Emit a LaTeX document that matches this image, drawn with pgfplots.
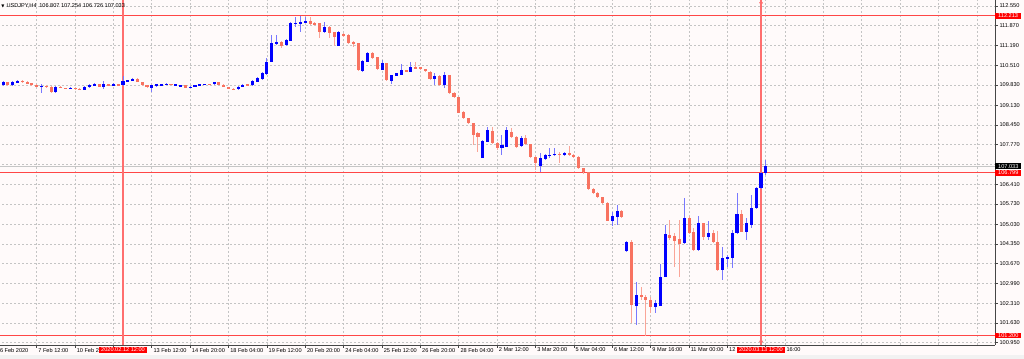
\documentclass[border=0pt]{standalone}
\usepackage{pgfplots}
\pgfplotsset{compat=1.18}
\usepackage{pgfplotstable}
\usepackage{fontspec}
\setmainfont{Liberation Sans}
\newfontfamily\dejavu{DejaVu Sans}
\definecolor{bgc}{RGB}{255,250,250}
\definecolor{bull}{RGB}{0,0,255}
\definecolor{bear}{RGB}{248,114,96}
\definecolor{bullw}{RGB}{120,120,255}
\definecolor{bearw}{RGB}{250,165,152}
\definecolor{gridc}{RGB}{196,196,196}
\definecolor{axc}{RGB}{70,70,70}
\definecolor{lvl}{RGB}{255,70,70}
\definecolor{vlvl}{RGB}{255,110,110}

% bullish candles (close >= open)
\pgfplotstableread{
i o h l c
2 109.82 109.97 109.79 109.93
4 109.84 109.97 109.81 109.93
5 109.91 110.00 109.90 109.98
10 109.78 109.85 109.54 109.81
13 109.59 109.79 109.54 109.76
16 109.70 109.75 109.68 109.73
19 109.67 109.78 109.66 109.76
20 109.76 109.85 109.74 109.83
21 109.83 109.89 109.81 109.86
23 109.77 109.96 109.70 109.86
25 109.82 109.89 109.80 109.86
27 109.82 110.14 109.80 109.96
28 109.96 110.00 109.93 109.98
29 109.98 110.07 109.97 110.05
33 109.73 109.83 109.59 109.82
34 109.82 109.86 109.76 109.84
35 109.84 109.88 109.81 109.85
36 109.85 109.90 109.83 109.86
38 109.82 109.86 109.79 109.85
39 109.79 109.83 109.78 109.82
41 109.73 109.79 109.71 109.77
42 109.77 109.83 109.76 109.82
43 109.82 109.85 109.81 109.84
44 109.84 109.88 109.83 109.86
46 109.85 109.95 109.84 109.93
51 109.68 109.79 109.66 109.77
52 109.77 109.86 109.76 109.84
54 109.84 110.00 109.81 109.98
55 109.94 110.09 109.93 110.06
56 110.03 110.28 110.00 110.23
57 110.21 110.75 110.19 110.63
58 110.63 111.55 110.62 111.27
59 111.23 111.55 111.21 111.32
61 111.21 111.41 111.19 111.38
62 111.36 112.00 111.35 111.98
63 111.93 112.18 111.84 111.98
64 111.95 112.21 111.66 112.01
65 111.99 112.18 111.95 112.04
69 111.64 112.01 111.62 111.82
72 111.18 111.69 111.17 111.66
77 110.32 110.69 110.29 110.67
78 110.63 110.97 110.62 110.94
81 110.35 110.69 110.33 110.58
83 109.98 110.19 109.86 110.17
84 110.15 110.24 110.14 110.23
85 110.17 110.55 110.16 110.35
87 110.29 110.63 110.28 110.46
92 110.03 110.23 109.83 110.14
94 109.83 110.29 109.72 110.17
102 107.32 107.93 107.30 107.90
103 107.88 108.39 107.87 108.28
106 107.67 108.11 107.42 107.76
107 107.70 108.39 107.69 108.28
110 107.74 108.07 107.71 107.99
114 107.05 107.48 106.84 107.30
115 107.28 107.45 107.25 107.42
116 107.39 107.67 107.30 107.42
117 107.42 107.67 107.38 107.46
119 107.42 107.53 107.38 107.50
129 105.15 105.46 104.97 105.32
130 105.27 105.70 105.01 105.50
132 104.12 104.47 104.09 104.43
134 102.22 103.05 101.56 102.59
138 102.19 102.42 101.96 102.31
139 102.23 103.66 102.20 103.23
140 103.23 105.01 103.20 104.70
144 104.37 105.93 104.35 105.24
147 104.14 105.32 104.11 105.06
149 104.60 105.15 104.49 104.74
152 103.46 104.26 103.11 103.86
153 103.82 103.97 103.55 103.89
154 103.86 104.83 103.51 104.72
155 104.72 106.12 104.70 105.38
157 104.77 105.24 104.49 105.06
158 105.01 106.04 104.89 105.58
159 105.58 106.32 105.56 106.27
160 106.27 106.84 106.25 106.807
161 106.807 107.254 106.726 107.033
}\upc

% bearish candles (close < open)
\pgfplotstableread{
i o h l c
3 109.93 109.95 109.81 109.84
6 109.98 110.00 109.91 109.94
7 109.94 109.97 109.86 109.89
8 109.89 109.91 109.81 109.83
9 109.83 109.86 109.76 109.78
11 109.81 109.83 109.74 109.77
12 109.77 109.79 109.57 109.59
14 109.76 109.78 109.71 109.73
15 109.73 109.74 109.68 109.70
17 109.73 109.74 109.67 109.69
18 109.69 109.71 109.65 109.67
22 109.86 109.88 109.76 109.77
24 109.86 109.88 109.80 109.82
26 109.86 109.88 109.81 109.83
30 110.05 110.07 109.93 109.93
31 109.93 109.95 109.80 109.82
32 109.82 109.84 109.73 109.75
37 109.86 109.88 109.82 109.84
40 109.82 109.83 109.71 109.73
45 109.86 109.88 109.83 109.84
47 109.93 109.94 109.83 109.84
48 109.84 109.85 109.75 109.75
49 109.75 109.76 109.68 109.70
50 109.70 109.73 109.66 109.68
53 109.84 109.86 109.80 109.82
60 111.30 111.34 111.09 111.18
66 112.04 112.18 111.90 111.93
67 111.98 112.00 111.88 111.91
68 111.95 111.96 111.44 111.66
70 111.84 111.86 111.44 111.61
71 111.65 111.67 111.17 111.49
73 111.59 111.62 111.48 111.52
74 111.55 111.57 111.24 111.27
75 111.32 111.34 111.14 111.23
76 111.27 111.28 110.32 110.35
79 110.92 110.95 110.72 110.75
80 110.78 110.79 110.35 110.37
82 110.58 110.59 109.98 110.00
86 110.35 110.36 110.28 110.29
88 110.44 110.63 110.38 110.40
89 110.44 110.45 110.35 110.37
90 110.37 110.38 110.29 110.31
91 110.29 110.31 110.00 110.03
93 110.14 110.16 109.81 109.83
95 110.17 110.19 109.52 109.54
96 109.56 109.59 109.38 109.40
97 109.40 109.41 108.85 108.86
98 108.90 108.92 108.66 108.69
99 108.68 108.69 108.49 108.51
100 108.51 108.52 107.76 108.11
101 108.16 108.21 107.52 108.03
104 108.24 108.39 107.80 107.82
105 107.82 107.85 107.59 107.65
108 108.22 108.34 108.02 108.05
109 108.05 108.07 107.66 107.70
111 107.99 108.11 107.76 107.79
112 107.79 107.80 107.33 107.36
113 107.36 107.38 106.90 107.13
118 107.46 107.53 107.13 107.42
120 107.50 107.74 107.38 107.42
121 107.42 107.45 107.33 107.36
122 107.36 107.38 106.93 106.96
123 106.96 106.97 106.76 106.82
124 106.82 106.83 106.21 106.24
125 106.24 106.28 106.09 106.12
126 106.12 106.13 105.94 105.96
127 105.96 105.97 105.73 105.77
128 105.77 105.80 105.13 105.15
131 105.50 105.52 105.25 105.27
133 104.43 104.49 101.62 102.25
135 102.59 102.88 102.42 102.51
136 102.53 102.59 101.18 102.42
137 102.42 102.54 101.96 102.19
141 104.66 105.18 104.49 104.57
142 104.63 104.74 103.57 104.47
143 104.51 105.18 103.22 104.37
145 105.24 105.32 104.71 104.74
146 104.77 104.89 104.11 104.14
148 105.06 105.08 104.49 104.60
150 104.74 104.83 104.39 104.43
151 104.43 104.81 103.42 103.46
156 105.38 105.52 104.75 104.77
}\downc

\begin{document}
\begin{tikzpicture}[font=\fontsize{4.2}{5}\selectfont]
\fill[bgc] (0,0) rectangle (768pt,269.25pt);
\fill[gray!10] (0,0) rectangle (768pt,3pt);
\useasboundingbox (0,0) rectangle (768pt,269.25pt);
\begin{axis}[
  at={(-1.5pt,10.5pt)}, anchor=south west,
  scale only axis, width=747.75pt, height=258.75pt,
  xmin=0.938, xmax=208.78, ymin=100.873, ymax=112.757,
  clip=false,
  axis x line*=bottom, axis y line*=right,
  axis line style={axc, line width=0.6pt},
  tick align=outside, major tick length=2.2pt,
  tick style={axc, line width=0.5pt},
  xtick={1,9,...,161},
  xticklabels={6 Feb 2020,7 Feb 12:00,10 Feb 20:00,{},13 Feb 12:00,14 Feb 20:00,18 Feb 04:00,19 Feb 12:00,20 Feb 20:00,24 Feb 04:00,25 Feb 12:00,26 Feb 20:00,28 Feb 04:00,2 Mar 12:00,3 Mar 20:00,5 Mar 04:00,6 Mar 12:00,9 Mar 16:00,11 Mar 00:00,12 Mar 08:00,13 Mar 16:00},
  extra x ticks={165,173,...,205},
  extra x tick labels={},
  extra x tick style={major tick length=0pt, grid=major},
  ytick={100.95,101.63,102.31,102.99,103.67,104.35,105.03,105.73,106.41,107.09,107.77,108.45,109.13,109.83,110.51,111.19,111.87,112.55},
  yticklabels={100.950,101.630,102.310,102.990,103.670,104.350,105.030,105.730,106.410,{},107.770,108.450,109.130,109.830,110.510,111.190,111.870,112.550},
  xticklabel style={anchor=west, inner sep=0pt, xshift=1.1pt, yshift=-1.6pt, font=\fontsize{4.2}{5}\selectfont},
  yticklabel style={anchor=west, inner sep=0pt, xshift=1pt, font=\fontsize{4.2}{5}\selectfont},
  grid=major,
  major grid style={gridc, dash pattern=on 1.5pt off 1.5pt, line width=0.5pt},
]
% level lines
\addplot[lvl, line width=0.75pt, forget plot] coordinates {(0.938,112.213) (208.78,112.213)};
\addplot[gray!45, line width=0.75pt, forget plot] coordinates {(0.938,107.033) (208.78,107.033)};
\addplot[lvl, line width=0.75pt, forget plot] coordinates {(0.938,106.799) (208.78,106.799)};
\addplot[lvl, line width=0.75pt, forget plot] coordinates {(0.938,101.200) (208.78,101.200)};
\addplot[vlvl, line width=0.8pt, forget plot] coordinates {(27,100.873) (27,112.757)};
\addplot[vlvl, line width=0.8pt, forget plot] coordinates {(160,100.873) (160,112.757)};
\addplot[vlvl, line width=0.5pt, only marks, mark=o, mark size=1.1pt, forget plot] coordinates {(160,112.66) (160,101.0)};
% wicks
\addplot[draw=none, mark=none, forget plot, error bars/.cd, y dir=both, y explicit, error mark=none,
  error bar style={draw=bullw, line width=0.75pt}]
  table[x=i, y expr={(\thisrow{h}+\thisrow{l})/2}, y error expr={(\thisrow{h}-\thisrow{l})/2}] {\upc};
\addplot[draw=none, mark=none, forget plot, error bars/.cd, y dir=both, y explicit, error mark=none,
  error bar style={draw=bearw, line width=0.75pt}]
  table[x=i, y expr={(\thisrow{h}+\thisrow{l})/2}, y error expr={(\thisrow{h}-\thisrow{l})/2}] {\downc};
% bodies
\addplot[draw=none, mark=none, forget plot, error bars/.cd, y dir=both, y explicit, error mark=none,
  error bar style={draw=bull, line width=2.3pt, line cap=butt}]
  table[x=i, y expr={(\thisrow{o}+\thisrow{c})/2}, y error expr={max(abs(\thisrow{c}-\thisrow{o})/2,0.016)}] {\upc};
\addplot[draw=none, mark=none, forget plot, error bars/.cd, y dir=both, y explicit, error mark=none,
  error bar style={draw=bear, line width=2.3pt, line cap=butt}]
  table[x=i, y expr={(\thisrow{o}+\thisrow{c})/2}, y error expr={max(abs(\thisrow{c}-\thisrow{o})/2,0.016)}] {\downc};
% price labels on the right
\node[fill=red, text=white, anchor=west, inner xsep=2.2pt, inner ysep=0.6pt] at (208.78,112.213) {112.213};
\node[fill=black, text=white, anchor=west, inner xsep=2.2pt, inner ysep=0.6pt] at (208.78,107.033) {107.033};
\node[fill=red, text=white, anchor=west, inner xsep=2.2pt, inner ysep=0.6pt] at (208.78,106.799) {106.799};
\node[fill=red, text=white, anchor=west, inner xsep=2.2pt, inner ysep=0.6pt] at (208.78,101.200) {101.200};
% time labels
\node[fill=red, text=white, anchor=north, inner xsep=2pt, inner ysep=0.8pt, yshift=-1.2pt] at (27,100.873) {2020.02.12 12:00};
\node[fill=red, text=white, anchor=north, inner xsep=2pt, inner ysep=0.8pt, yshift=-1.2pt] at (160,100.873) {2020.03.13 12:00};
% title
\node[anchor=west, inner sep=0pt] at (rel axis cs:0,1) [xshift=2.3pt, yshift=-4.5pt] {{\dejavu\fontsize{3}{4}\selectfont ▼}\hspace{1.6pt}USDJPY,H4\hspace{2pt}106.807 107.254 106.726 107.033};
\end{axis}
\end{tikzpicture}
\end{document}
